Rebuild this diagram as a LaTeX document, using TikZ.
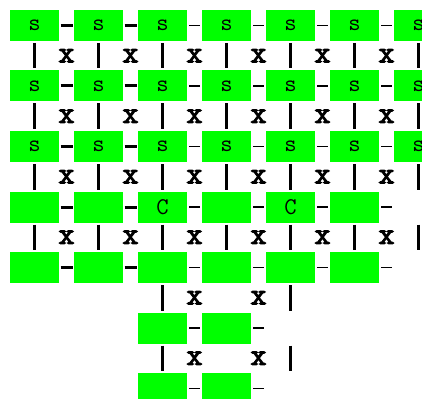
\documentclass[tikz,border=0pt]{standalone}
\usepackage{fontspec}
\usetikzlibrary{calc}
\newfontfamily\monofam{Latin Modern Mono}
\newfontfamily\boldmonofam[FakeBold=3.5]{Latin Modern Mono}
\definecolor{cellgreen}{HTML}{00FF00}
\tikzset{
  blank/.style={minimum width=49pt,minimum height=31pt,inner sep=0pt,outer sep=0pt},
  cell/.style={blank,fill=cellgreen,font=\monofam\fontsize{24}{24}\selectfont},
  boldlink/.style={line width=3pt,shorten <=1.5pt,shorten >=1.5pt},
  thinlink/.style={line width=1.4pt,shorten <=2pt,shorten >=2pt},
  vlink/.style={line width=2.5pt,shorten <=2pt,shorten >=2pt},
  crossmark/.style={font=\boldmonofam\fontsize{31}{31}\selectfont,inner sep=0pt}
}
\begin{document}
\begin{tikzpicture}[x=1pt,y=-1pt]
\useasboundingbox[clip] (0,0) rectangle (422,398);
% full rows of s
\foreach \r in {0,1,2}{
  \foreach \c in {0,...,6}{
    \node[cell] (n\r\c) at ({34.5+64*\c},{25.5+60.5*\r}) {s};
  }
}
% rows 3 and 4
\foreach \r in {3,4}{
  \foreach \c in {0,1,3,5}{
    \node[cell] (n\r\c) at ({34.5+64*\c},{25.5+60.5*\r}) {};
  }
  \node[blank] (n\r6) at ({34.5+64*6},{25.5+60.5*\r}) {};
}
\node[cell] (n32) at ({34.5+64*2},{25.5+60.5*3}) {C};
\node[cell] (n34) at ({34.5+64*4},{25.5+60.5*3}) {C};
\node[cell] (n42) at ({34.5+64*2},{25.5+60.5*4}) {};
\node[cell] (n44) at ({34.5+64*4},{25.5+60.5*4}) {};
% rows 5 and 6
\foreach \r in {5,6}{
  \node[cell] (n\r2) at ({34.5+64*2},{25.5+60.5*\r}) {};
  \node[cell] (n\r3) at ({34.5+64*3},{25.5+60.5*\r}) {};
  \node[blank] (n\r4) at ({34.5+64*4},{25.5+60.5*\r}) {};
}
% horizontal links
\foreach \r in {0,...,4}{
  \draw[boldlink] (n\r0) -- (n\r1);
  \draw[boldlink] (n\r1) -- (n\r2);
  \draw[thinlink] (n\r2) -- (n\r3);
  \draw[thinlink] (n\r3) -- (n\r4);
  \draw[thinlink] (n\r4) -- (n\r5);
  \draw[thinlink] (n\r5) -- (n\r6);
}
\foreach \r in {5,6}{
  \draw[thinlink] (n\r2) -- (n\r3);
  \draw[thinlink] (n\r3) -- (n\r4);
}
% vertical links
\foreach \r/\s in {0/1,1/2,2/3,3/4}{
  \foreach \c in {0,...,6}{
    \draw[vlink] (n\r\c) -- (n\s\c);
  }
}
\foreach \r/\s in {4/5,5/6}{
  \draw[vlink] (n\r2) -- (n\s2);
  \draw[vlink] (n\r4) -- (n\s4);
}
% cross marks
\foreach \r/\s in {0/1,1/2,2/3,3/4}{
  \foreach \c/\d in {0/1,1/2,2/3,3/4,4/5,5/6}{
    \node[crossmark] (x\r\c) at ($(n\r\c)!0.5!(n\s\d)$) {x};
  }
}
\foreach \r/\s in {4/5,5/6}{
  \node[crossmark] (x\r2) at ($(n\r2)!0.5!(n\s3)$) {x};
  \node[crossmark] (x\r3) at ($(n\r3)!0.5!(n\s4)$) {x};
}
\end{tikzpicture}
\end{document}
